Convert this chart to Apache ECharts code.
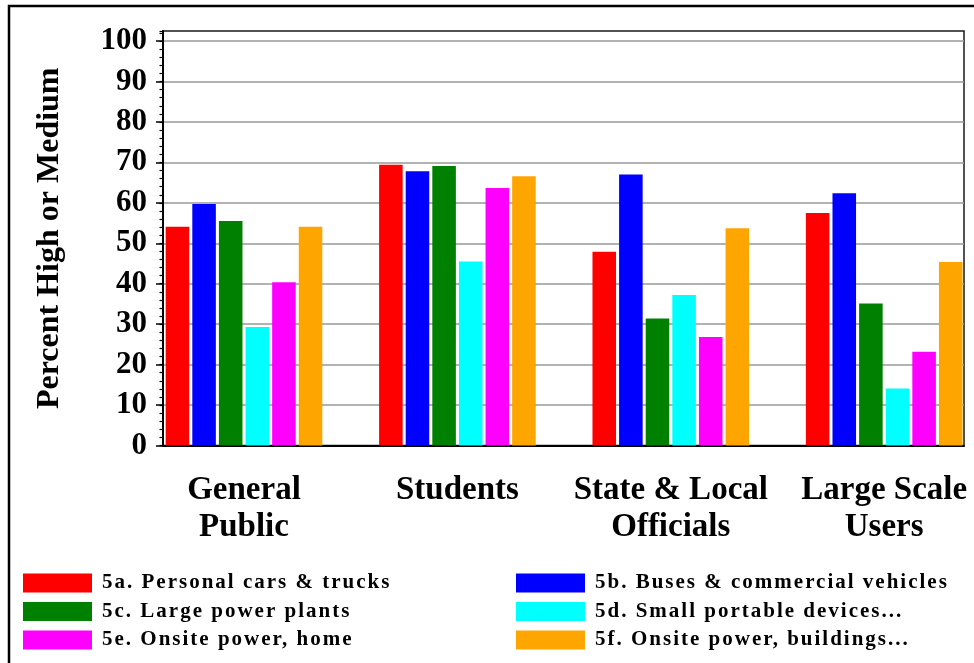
<!DOCTYPE html>
<html>
<head>
<meta charset="utf-8">
<script src="https://cdn.jsdelivr.net/npm/echarts@6/dist/echarts.min.js"></script>
<style>
html,body{margin:0;padding:0;background:#fff;}
#chart{width:974px;height:663px;}
</style>
</head>
<body>
<div id="chart"></div>
<script>
// Categories (x positions 0..3)
var categories = ['General\nPublic', 'Students', 'State & Local\nOfficials', 'Large Scale\nUsers'];
var seriesNames = [
  '5a. Personal cars & trucks',
  '5b. Buses & commercial vehicles',
  '5c. Large power plants',
  '5d. Small portable devices...',
  '5e. Onsite power, home',
  '5f. Onsite power, buildings...'
];
var seriesColors = ['#ff0000', '#0000ff', '#008000', '#00ffff', '#ff00ff', '#ffa500'];
var v5a = [54.1, 69.4, 47.9, 57.5];
var v5b = [59.7, 67.8, 67.0, 62.4];
var v5c = [55.5, 69.1, 31.4, 35.1];
var v5d = [29.3, 45.5, 37.2, 14.1];
var v5e = [40.4, 63.7, 26.8, 23.2];
var v5f = [54.1, 66.6, 53.7, 45.4];
var yTicks = [0, 10, 20, 30, 40, 50, 60, 70, 80, 90, 100];

var allValues = [v5a, v5b, v5c, v5d, v5e, v5f];
var FONT = '"Liberation Serif", "Times New Roman", serif';

// The original legend text is letter-spaced; apply canvas letterSpacing to the 21px legend font.
(function () {
  var proto = CanvasRenderingContext2D.prototype;
  var orig = proto.fillText;
  proto.fillText = function () {
    if ('letterSpacing' in this) {
      var prev = this.letterSpacing;
      this.letterSpacing = /(^|\s)21px/.test(this.font) ? '2px' : '0px';
      var r = orig.apply(this, arguments);
      this.letterSpacing = prev;
      return r;
    }
    return orig.apply(this, arguments);
  };
})();

var chart = echarts.init(document.getElementById('chart'), null, {renderer: 'canvas'});

var series = allValues.map(function (vals, si) {
  return {
    name: seriesNames[si],
    type: 'bar',
    xAxisIndex: 0,
    yAxisIndex: 0,
    barGap: '13%',
    barCategoryGap: '26.6%',
    itemStyle: {color: seriesColors[si]},
    data: vals.map(function (v, i) { return [i, v]; })
  };
});

var legendText = {fontFamily: FONT, fontWeight: 'bold', fontSize: 21, color: '#000', lineHeight: 19, padding: [0, 0, 0, 5]};

var option = {
  animation: false,
  backgroundColor: '#fff',
  color: seriesColors,
  graphic: [{
    type: 'rect',
    shape: {x: 9, y: 6, width: 1000, height: 700},
    style: {fill: 'none', stroke: '#000', lineWidth: 2.5},
    silent: true,
    z: 100
  }],
  grid: {
    left: 163, top: 31, right: 10, bottom: 217.5,
    show: true, borderColor: '#1a1a1a', borderWidth: 1.5, containLabel: false
  },
  legend: [{
    orient: 'vertical', left: 23, top: 572.5, height: 90, padding: 0,
    icon: 'rect', itemWidth: 69, itemHeight: 19, itemGap: 7.5,
    textStyle: legendText,
    data: [seriesNames[0], seriesNames[2], seriesNames[4]]
  }, {
    orient: 'vertical', left: 516, top: 572.5, height: 90, padding: 0,
    icon: 'rect', itemWidth: 69, itemHeight: 19, itemGap: 7.5,
    textStyle: legendText,
    data: [seriesNames[1], seriesNames[3], seriesNames[5]]
  }],
  xAxis: {
    type: 'value',
    min: -0.3796,
    max: 3.374,
    axisLine: {show: true, onZero: false, lineStyle: {color: '#000', width: 2}},
    axisTick: {show: false},
    splitLine: {show: false},
    axisLabel: {
      customValues: [0, 1, 2, 3],
      formatter: function (v) { return categories[Math.round(v)] || ''; },
      fontFamily: FONT, fontWeight: 'bold', fontSize: 33, lineHeight: 37,
      color: '#000', margin: 26, align: 'center'
    }
  },
  yAxis: [{
    type: 'value',
    min: 0, max: 102.5, interval: 10,
    position: 'left',
    name: 'Percent High or Medium',
    nameLocation: 'middle',
    nameGap: 97,
    nameRotate: 90,
    nameTextStyle: {fontFamily: FONT, fontWeight: 'bold', fontSize: 32, color: '#000'},
    axisLine: {show: true, onZero: false, lineStyle: {color: '#000', width: 2}},
    axisTick: {show: true, length: 7, inside: false, customValues: yTicks, lineStyle: {color: '#000', width: 1.5}},
    splitLine: {show: true, lineStyle: {color: '#999', width: 1.5}},
    axisLabel: {
      customValues: yTicks,
      fontFamily: FONT, fontWeight: 'bold', fontSize: 31, color: '#000', margin: 16
    }
  }, {
    type: 'value',
    min: 0, max: 102.5, interval: 2,
    position: 'left',
    axisLine: {show: false, onZero: false},
    axisTick: {show: true, length: 3.5, inside: false, lineStyle: {color: '#000', width: 1.2}},
    splitLine: {show: false},
    axisLabel: {show: false}
  }],
  series: series
};

chart.setOption(option);
</script>
</body>
</html>
